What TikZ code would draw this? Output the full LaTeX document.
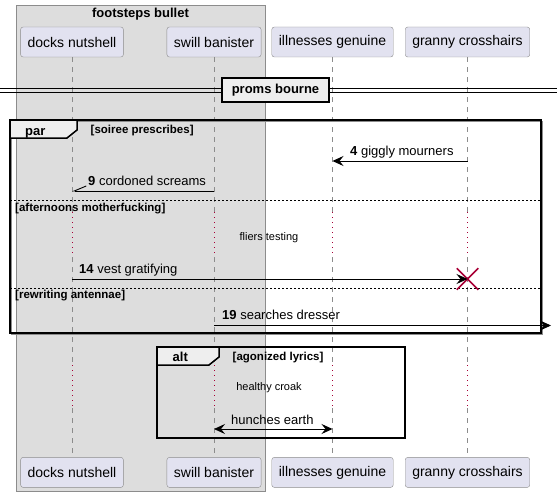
\documentclass[tikz,border=0pt]{standalone}
\usepackage{fontspec}
\setmainfont{Liberation Sans}
\usetikzlibrary{arrows.meta, positioning, shapes.misc}

\definecolor{partfill}{HTML}{E2E2F0}
\definecolor{boxgray}{HTML}{DDDDDD}
\definecolor{tabgray}{HTML}{EEEEEE}
\definecolor{crimson}{HTML}{A80036}
\definecolor{rimgray}{HTML}{8C8C8C}

\newcommand{\fs}[1]{\fontsize{#1}{#1}\selectfont}

\tikzset{
	part/.style = {draw = rimgray, fill = partfill, rounded corners = 2.5pt, minimum height = 30pt, inner xsep = 7pt, font = \fs{14}},
	life/.style = {rimgray, line width = 0.7pt, dash pattern = on 5pt off 5pt},
	lag/.style = {crimson, line width = 0.8pt, dash pattern = on 1pt off 4pt},
	tip/.tip = {Stealth[length = 11pt, width = 10pt, inset = 4pt]},
	msg/.style = {line width = 0.9pt, -tip},
	frame/.style = {line width = 1.5pt},
	tab/.style = {fill = tabgray, line width = 1.5pt},
	sep/.style = {line width = 0.8pt, dash pattern = on 2pt off 2pt},
	say/.style = {anchor = base west, inner sep = 0pt, font = \fs{13}},
	head/.style = {anchor = base west, inner sep = 0pt, font = \bfseries\fs{13}},
	cond/.style = {anchor = base west, inner sep = 0pt, font = \bfseries\fs{11.5}},
	note/.style = {anchor = base, inner sep = 0pt, font = \fs{11}}
}

\begin{document}
\begin{tikzpicture}[x = 1pt, y = -1pt]

	\useasboundingbox (0, 0) rectangle (557, 495);

	% Box round the first two participants

	\filldraw [fill = boxgray, draw = rimgray, line width = 0.8pt] (16, 5) rectangle (265, 491);
	\node [anchor = base, inner sep = 0pt, font = \bfseries\fs{13}] (title) at (140.5, 18) {footsteps bullet};

	% Participants, top and bottom

	\node [part] (dn) at (72, 42) {docks nutshell};
	\node [part] (sb) at (214, 42) {swill banister};
	\node [part] (ig) at (332.5, 42) {illnesses genuine};
	\node [part] (gc) at (467.5, 42) {granny crosshairs};

	\foreach \p/\t in {dn/docks nutshell, sb/swill banister, ig/illnesses genuine, gc/granny crosshairs}
		\node [part, below = 400pt of \p] (\p-b) {\t};

	% Lifelines, dotted where time passes

	\foreach \p in {dn, sb, ig, gc} {
		\draw [life] (\p.south) -- (\p.south |- 0, 212);
		\draw [lag] (\p.south |- 0, 212) -- (\p.south |- 0, 257);
		\draw [life] (\p.south |- 0, 257) -- (\p.south |- 0, 365);
		\draw [lag] (\p.south |- 0, 365) -- (\p.south |- 0, 408);
		\draw [life] (\p.south |- 0, 408) -- (\p-b.north);
	}

	% Divider

	\draw [line width = 0.9pt] (0, 88.5) -- (557, 88.5);
	\draw [line width = 0.9pt] (0, 92.5) -- (557, 92.5);
	\node [draw, fill = tabgray, line width = 1.5pt, minimum width = 107pt, minimum height = 24pt, inner sep = 0pt, font = \bfseries\fs{13}] (pb) at (275.5, 90) {proms bourne};

	% par group

	\draw [rimgray, frame] (11.5, 121.5) rectangle (542.5, 334.5);
	\draw [frame] (10, 120) rectangle (541, 333);
	\draw [tab] (10, 120) -- (77, 120) -- (77, 130) -- (67, 138) -- (10, 138) -- cycle;
	\node [head] (par) at (25, 135) {par};
	\node [cond] (c1) at (90.5, 133) {[soiree prescribes]};
	\draw [sep] (10, 200) -- (541, 200);
	\node [cond] (c2) at (15, 211) {[afternoons motherfucking]};
	\draw [sep] (10, 288) -- (541, 288);
	\node [cond] (c3) at (15, 298) {[rewriting antennae]};

	% Messages

	\draw [msg] (gc.south |- 0, 161) -- (ig.south |- 0, 161);
	\node [say] (m4) at (350, 155) {\textbf{4} giggly mourners};

	\draw [line width = 0.9pt, -{Straight Barb[right, length = 12pt, width = 10pt]}] (sb.south |- 0, 191) -- (dn.south |- 0, 191);
	\node [say] (m9) at (88, 185) {\textbf{9} cordoned screams};

	\node [note] (d1) at (269, 240.5) {fliers testing};

	\node [cross out, draw = crimson, line width = 1.5pt, minimum size = 20pt, inner sep = 0pt] (kill) at (gc.south |- 0, 279) {};
	\draw [msg] (dn.south |- kill) -- (kill.center);
	\node [say] (m14) at (79, 273) {\textbf{14} vest gratifying};

	\coordinate (rim) at (551, 325.5);
	\draw [msg] (sb.south |- rim) -- (rim);
	\node [say] (m19) at (222, 319.5) {\textbf{19} searches dresser};

	% alt group

	\draw [frame] (157, 347) rectangle (405, 438);
	\draw [tab] (157, 347) -- (219, 347) -- (219, 357) -- (209, 365) -- (157, 365) -- cycle;
	\node [head] (alt) at (172.5, 361.5) {alt};
	\node [cond] (c4) at (232.5, 360) {[agonized lyrics]};

	\node [note] (d2) at (269, 390) {healthy croak};

	\draw [msg, tip-tip] (sb.south |- 0, 429) -- (ig.south |- 0, 429);
	\node [say] (m0) at (231, 424) {hunches earth};

\end{tikzpicture}
\end{document}
